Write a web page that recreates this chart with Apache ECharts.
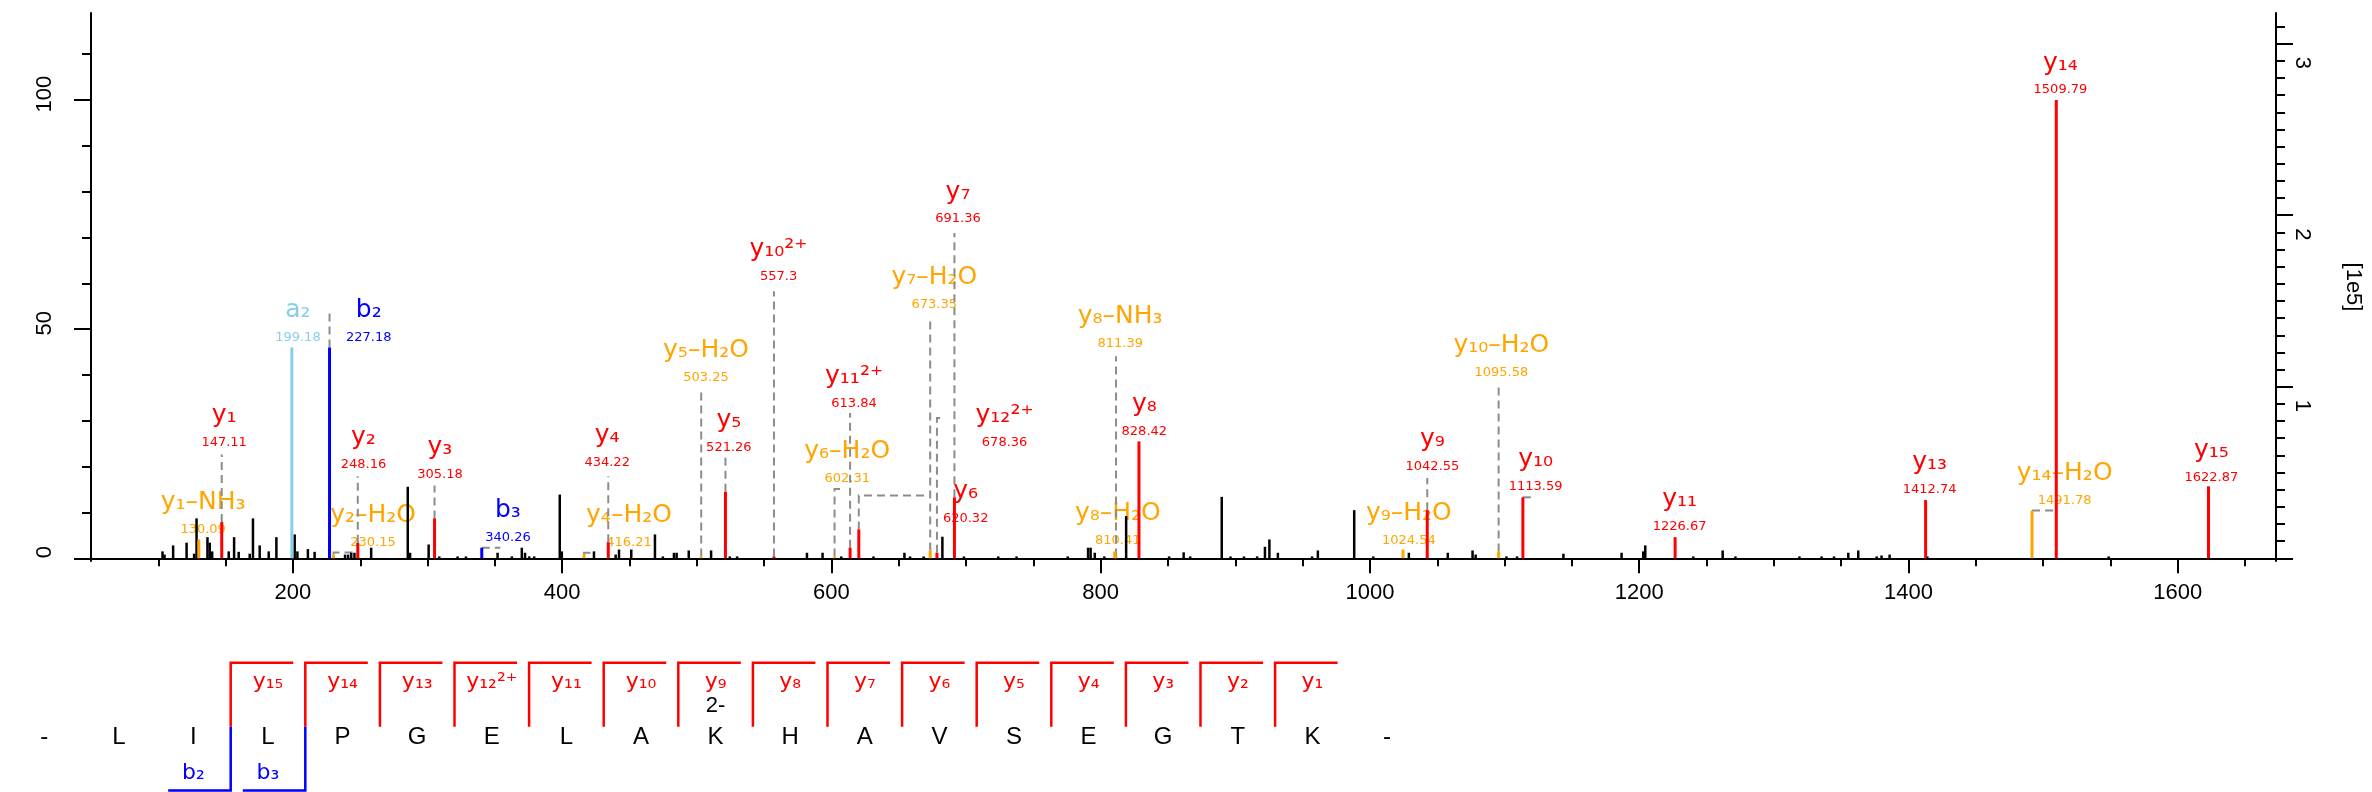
<!DOCTYPE html>
<html>
<head>
<meta charset="utf-8">
<title>annotated MS2 spectrum</title>
<script src="https://cdn.jsdelivr.net/npm/echarts@6.0.0/dist/echarts.min.js"></script>
<style>
  html, body { margin: 0; padding: 0; background: #fff; }
  #chart { width: 2372px; height: 792px; }
</style>
</head>
<body>
<div id="chart"></div>
<script>
// annotated fragment ions
const ionNames = ['y₁–NH₃','y₁','a₂','b₂','y₂–H₂O','y₂','y₃','b₃','y₄–H₂O','y₄','y₅–H₂O','y₅','y₁₀²⁺','y₆–H₂O','y₁₁²⁺','y₆','y₇–H₂O','y₁₂²⁺','y₇','y₈–H₂O','y₈–NH₃','y₈','y₉–H₂O','y₉','y₁₀–H₂O','y₁₀','y₁₁','y₁₃','y₁₄–H₂O','y₁₄','y₁₅'];
const ionMz = ['130.09','147.11','199.18','227.18','230.15','248.16','305.18','340.26','416.21','434.22','503.25','521.26','557.3','602.31','613.84','620.32','673.35','678.36','691.36','810.41','811.39','828.42','1024.54','1042.55','1095.58','1113.59','1226.67','1412.74','1491.78','1509.79','1622.87'];
const ionInt = [4.1, 7.9, 46, 46, 0.8, 3.4, 8.7, 2.3, 0.9, 3.5, 0.4, 14.5, 0.4, 0.4, 2.3, 6.3, 1.7, 1.2, 13.3, 1.5, 0.4, 25.5, 1.9, 10.5, 1.5, 13.3, 4.6, 12.7, 10.4, 100, 15.7];
const ionKind = ['loss','y','a','b','loss','y','y','b','loss','y','loss','y','y','loss','y','y','loss','y','y','loss','loss','y','loss','y','loss','y','y','y','loss','y','y'];

// unassigned peaks
const otherMz = [103.1, 104.6, 111.0, 121.0, 126.6, 128.4, 136.5, 138.2, 140.0, 152.3, 156.3, 159.7, 167.9, 170.3, 175.3, 182.0, 187.7, 201.3, 203.3, 211.1, 216.1, 227.0, 238.7, 241.0, 243.3, 245.7, 258.1, 285.3, 287.0, 300.8, 308.7, 322.3, 328.5, 352.0, 362.6, 370.0, 372.4, 375.5, 379.2, 398.2, 399.7, 423.6, 439.7, 442.2, 451.3, 468.9, 474.8, 483.0, 485.0, 494.0, 510.6, 524.5, 529.9, 581.8, 593.4, 607.3, 631.2, 654.2, 658.4, 668.5, 682.4, 698.4, 723.9, 737.5, 775.5, 790.6, 792.5, 795.6, 802.7, 818.9, 850.8, 861.6, 866.5, 889.9, 896.4, 906.4, 916.2, 922.0, 925.3, 931.6, 957.0, 961.3, 988.3, 1002.5, 1028.9, 1057.8, 1076.2, 1078.5, 1101.4, 1109.3, 1143.7, 1186.9, 1203.0, 1204.5, 1240.2, 1262.0, 1271.5, 1319.0, 1335.5, 1344.7, 1355.3, 1362.7, 1376.4, 1380.0, 1386.0, 1414.0, 1548.7];
const otherInt = [1.5, 0.8, 2.8, 3.4, 1.0, 8.7, 4.6, 3.4, 1.5, 1.5, 4.6, 1.4, 1.0, 8.7, 2.8, 1.5, 4.6, 5.2, 1.5, 2.0, 1.4, 4.5, 0.8, 0.8, 1.2, 1.2, 2.3, 15.6, 1.2, 3.0, 0.4, 0.4, 0.4, 1.2, 0.4, 2.3, 1.2, 0.4, 0.4, 13.9, 1.5, 1.5, 0.8, 1.9, 1.9, 5.2, 0.4, 1.2, 1.2, 1.7, 1.7, 0.4, 0.4, 1.2, 1.2, 0.4, 0.4, 1.2, 0.4, 0.4, 4.7, 0.4, 0.4, 0.4, 0.4, 2.3, 2.3, 1.2, 0.4, 9.2, 0.4, 1.3, 0.4, 13.4, 0.4, 0.4, 0.4, 2.5, 4.1, 1.2, 0.4, 1.7, 10.5, 0.4, 1.2, 1.2, 1.7, 0.8, 0.4, 0.4, 1.0, 1.2, 1.5, 2.8, 0.4, 1.7, 0.4, 0.4, 0.4, 0.4, 1.2, 1.7, 0.4, 0.6, 0.8, 0.4, 0.4];

// peptide and the ions that cover it
const residues = ['-','L','I','L','P','G','E','L','A','K','H','A','V','S','E','G','T','K','-'];
const yCover = ['y₁₅','y₁₄','y₁₃','y₁₂²⁺','y₁₁','y₁₀','y₉','y₈','y₇','y₆','y₅','y₄','y₃','y₂','y₁'];
const yCoverN = [15, 14, 13, 12, 11, 10, 9, 8, 7, 6, 5, 4, 3, 2, 1];
const bCover = ['b₂','b₃'];
const bCoverN = [2, 3];

// axis ticks
const mzMinor = [100,150,200,250,300,350,400,450,500,550,600,650,700,750,800,850,900,950,1000,1050,1100,1150,1200,1250,1300,1350,1400,1450,1500,1550,1600,1650];
const mzMajor = [200,400,600,800,1000,1200,1400,1600];
const relMinor = [0,10,20,30,40,50,60,70,80,90,100,110];
const relMajor = [0,50,100];
const absMinor = [0,0.1,0.2,0.3,0.4,0.5,0.6,0.7,0.8,0.9,1,1.1,1.2,1.3,1.4,1.5,1.6,1.7,1.8,1.9,2,2.1,2.2,2.3,2.4,2.5,2.6,2.7,2.8,2.9,3,3.1];
const absMajor = [0,1,2,3];
const absLabels = [1,2,3];

// label placement (m/z, relative intensity of the value line)
const labelMz = [133.3,148.9,203.7,256.3,259.5,252.4,309.2,359.7,449.6,433.4,506.8,523.8,560.7,611.7,616.8,699.7,676.4,728.6,694,812.7,814.5,832.4,1028.9,1046.4,1097.6,1123,1230,1415.7,1516,1512.9,1625];
const labelAt = [6.26,25.17,48.25,48.25,3.36,20.44,18.26,4.45,3.36,20.81,39.35,24.08,61.39,17.32,33.75,8.6,55.35,25.17,74.04,3.93,46.84,27.7,3.93,20.07,40.45,15.58,6.85,15.03,12.52,102.18,17.69];
// leader lines: height reached above the peak, optional horizontal end
const leaderTop = [null,22.62,null,53.43,1.24,17.89,15.86,2.3,1.2,17.89,37.24,21.97,58.25,15.14,31.72,13.68,52.44,30.63,70.99,null,44.07,null,null,17.54,38.26,13.3,null,null,10.4,null,null];
const leaderEnd = [null,null,null,null,245,null,null,354,421,null,null,null,null,606.6,null,672.5,null,681.5,null,null,null,null,null,null,null,1119.5,null,null,1507.7,null,null];

const colors = { y: '#ff0000', b: '#0000ff', a: '#87ceeb', loss: '#ffa500' };
const ABS_PER_REL = 1 / 37.43;   // 1e5 counts per % relative
const Y_MIN = -0.6, Y_MAX = 119;

const labelFont = '"DejaVu Sans", sans-serif';
const axisFont = '"Liberation Sans", Arial, sans-serif';

const chart = echarts.init(document.getElementById('chart'));

const ionData = ionMz.map((m, i) => [parseFloat(m), ionInt[i]]);
const otherData = otherMz.map((m, i) => [m, otherInt[i]]);

function stick(getColor, width) {
  return function (params, api) {
    const top = api.coord([api.value(0), api.value(1)]);
    const base = api.coord([api.value(0), 0]);
    return {
      type: 'line',
      shape: { x1: top[0], y1: base[1], x2: top[0], y2: top[1] },
      style: { stroke: getColor(params.dataIndex), lineWidth: width }
    };
  };
}

// sequence map rows (grid 1, px below its top)
const ROW_TOP = 62.7, ROW_YLAB = 82, ROW_CHARGE = 106, ROW_MID = 126.7, ROW_LETTER = 137, ROW_BLAB = 173.5, ROW_BOTTOM = 190.5;
const ARM = 0.838;

const option = {
  animation: false,
  backgroundColor: '#fff',
  grid: [
    { left: 91, top: 13, width: 2189, height: 548 },
    { left: 44.2, top: 600, width: 1342.8, height: 192 }
  ],
  xAxis: [
    { type: 'value', gridIndex: 0, position: 'bottom', min: 50, max: 1673,
      axisLine: { lineStyle: { color: '#000', width: 2 } },
      axisTick: { customValues: mzMinor, length: 8, lineStyle: { color: '#000', width: 2 } },
      axisLabel: { show: false }, splitLine: { show: false } },
    { type: 'value', gridIndex: 0, position: 'bottom', min: 50, max: 1673,
      axisLine: { show: false },
      axisTick: { customValues: mzMajor, length: 15, lineStyle: { color: '#000', width: 2 } },
      axisLabel: { customValues: mzMajor, formatter: v => String(v), fontSize: 22, fontFamily: axisFont, color: '#000', margin: 21, lineHeight: 22 },
      splitLine: { show: false } },
    { type: 'value', gridIndex: 1, min: 0, max: 18, show: false }
  ],
  yAxis: [
    { type: 'value', gridIndex: 0, position: 'left', min: Y_MIN, max: Y_MAX,
      axisLine: { show: true, lineStyle: { color: '#000', width: 2 } },
      axisTick: { show: true, customValues: relMinor, length: 9, lineStyle: { color: '#000', width: 2 } },
      axisLabel: { show: false }, splitLine: { show: false } },
    { type: 'value', gridIndex: 0, position: 'left', min: Y_MIN, max: Y_MAX,
      axisLine: { show: false },
      axisTick: { show: true, customValues: relMajor, length: 17, lineStyle: { color: '#000', width: 2 } },
      axisLabel: { customValues: relMajor, rotate: 90, fontSize: 22, fontFamily: axisFont, color: '#000', margin: 35, lineHeight: 22, padding: [0, 0, 0, 12] },
      splitLine: { show: false } },
    { type: 'value', gridIndex: 0, position: 'right', min: Y_MIN * ABS_PER_REL, max: Y_MAX * ABS_PER_REL,
      axisLine: { show: true, lineStyle: { color: '#000', width: 2 } },
      axisTick: { show: true, customValues: absMinor, length: 9, lineStyle: { color: '#000', width: 2 } },
      axisLabel: { show: false }, splitLine: { show: false } },
    { type: 'value', gridIndex: 0, position: 'right', min: Y_MIN * ABS_PER_REL, max: Y_MAX * ABS_PER_REL,
      axisLine: { show: false },
      axisTick: { show: true, customValues: absMajor, length: 17, lineStyle: { color: '#000', width: 2 } },
      axisLabel: { customValues: absLabels, rotate: -90, fontSize: 22, fontFamily: axisFont, color: '#000', margin: 15, lineHeight: 22, padding: [0, 0, 0, 38] },
      name: '[1e5]', nameLocation: 'middle', nameRotate: -90, nameGap: 66,
      nameTextStyle: { fontSize: 22, fontFamily: axisFont, color: '#000' },
      splitLine: { show: false } },
    { type: 'value', gridIndex: 1, min: 0, max: 192, inverse: true, show: false }
  ],
  series: [
    // peak labels
    { type: 'custom', xAxisIndex: 0, yAxisIndex: 0, z: 1, data: ionData.map((d, i) => [labelMz[i], labelAt[i]]),
      renderItem: function (params, api) {
        const i = params.dataIndex;
        const p = api.coord([api.value(0), api.value(1)]);
        const c = colors[ionKind[i]];
        return { type: 'group', children: [
          { type: 'text', x: p[0], y: p[1] - 27, style: { text: ionNames[i], fill: c, font: '25px ' + labelFont, align: 'center', verticalAlign: 'middle' } },
          { type: 'text', x: p[0], y: p[1], style: { text: ionMz[i], fill: c, font: '13px ' + labelFont, align: 'center', verticalAlign: 'middle' } }
        ] };
      } },
    // leader lines
    { type: 'custom', xAxisIndex: 0, yAxisIndex: 0, z: 2, data: ionData,
      renderItem: function (params, api) {
        const i = params.dataIndex;
        if (leaderTop[i] === null) return null;
        const m = api.value(0);
        const pts = [api.coord([m, api.value(1)]), api.coord([m, leaderTop[i]])];
        if (leaderEnd[i] !== null) pts.push(api.coord([leaderEnd[i], leaderTop[i]]));
        return { type: 'polyline', shape: { points: pts },
          style: { stroke: '#8c8c8c', lineWidth: 2, lineDash: [8, 5], fill: null } };
      } },
    // unassigned peaks
    { type: 'custom', xAxisIndex: 0, yAxisIndex: 0, z: 3, data: otherData,
      renderItem: stick(() => '#000', 2.5) },
    // assigned peaks
    { type: 'custom', xAxisIndex: 0, yAxisIndex: 0, z: 4, data: ionData,
      renderItem: stick(i => colors[ionKind[i]], 3) },
    // sequence letters
    { type: 'custom', xAxisIndex: 2, yAxisIndex: 4, data: residues.map((r, i) => [i]),
      renderItem: function (params, api) {
        const p = api.coord([api.value(0), ROW_LETTER]);
        return { type: 'text', x: p[0], y: p[1], style: { text: residues[params.dataIndex], fill: '#000', font: '24px ' + axisFont, align: 'center', verticalAlign: 'middle' } };
      } },
    // y-ion brackets
    { type: 'custom', xAxisIndex: 2, yAxisIndex: 4, data: yCoverN.map(n => [17.5 - n]),
      renderItem: function (params, api) {
        const x = api.value(0);
        const a = api.coord([x, ROW_MID]), b = api.coord([x, ROW_TOP]), c = api.coord([x + ARM, ROW_TOP]);
        const t = api.coord([x + 0.5, ROW_YLAB]);
        const kids = [
          { type: 'polyline', shape: { points: [a, b, c] }, style: { stroke: '#ff0000', lineWidth: 2.5, fill: null } },
          { type: 'text', x: t[0], y: t[1], style: { text: yCover[params.dataIndex], fill: '#ff0000', font: '22px ' + labelFont, align: 'center', verticalAlign: 'middle' } }
        ];
        if (yCoverN[params.dataIndex] === 9) {
          const q = api.coord([x + 0.5, ROW_CHARGE]);
          kids.push({ type: 'text', x: q[0], y: q[1], style: { text: '2-', fill: '#000', font: '22px ' + axisFont, align: 'center', verticalAlign: 'middle' } });
        }
        return { type: 'group', children: kids };
      } },
    // b-ion brackets
    { type: 'custom', xAxisIndex: 2, yAxisIndex: 4, data: bCoverN.map(n => [n + 0.5]),
      renderItem: function (params, api) {
        const x = api.value(0);
        const a = api.coord([x - ARM, ROW_BOTTOM]), b = api.coord([x, ROW_BOTTOM]), c = api.coord([x, ROW_MID]);
        const t = api.coord([x - 0.5, ROW_BLAB]);
        return { type: 'group', children: [
          { type: 'polyline', shape: { points: [a, b, c] }, style: { stroke: '#0000ff', lineWidth: 2.5, fill: null } },
          { type: 'text', x: t[0], y: t[1], style: { text: bCover[params.dataIndex], fill: '#0000ff', font: '22px ' + labelFont, align: 'center', verticalAlign: 'middle' } }
        ] };
      } }
  ]
};

chart.setOption(option);
</script>
</body>
</html>
